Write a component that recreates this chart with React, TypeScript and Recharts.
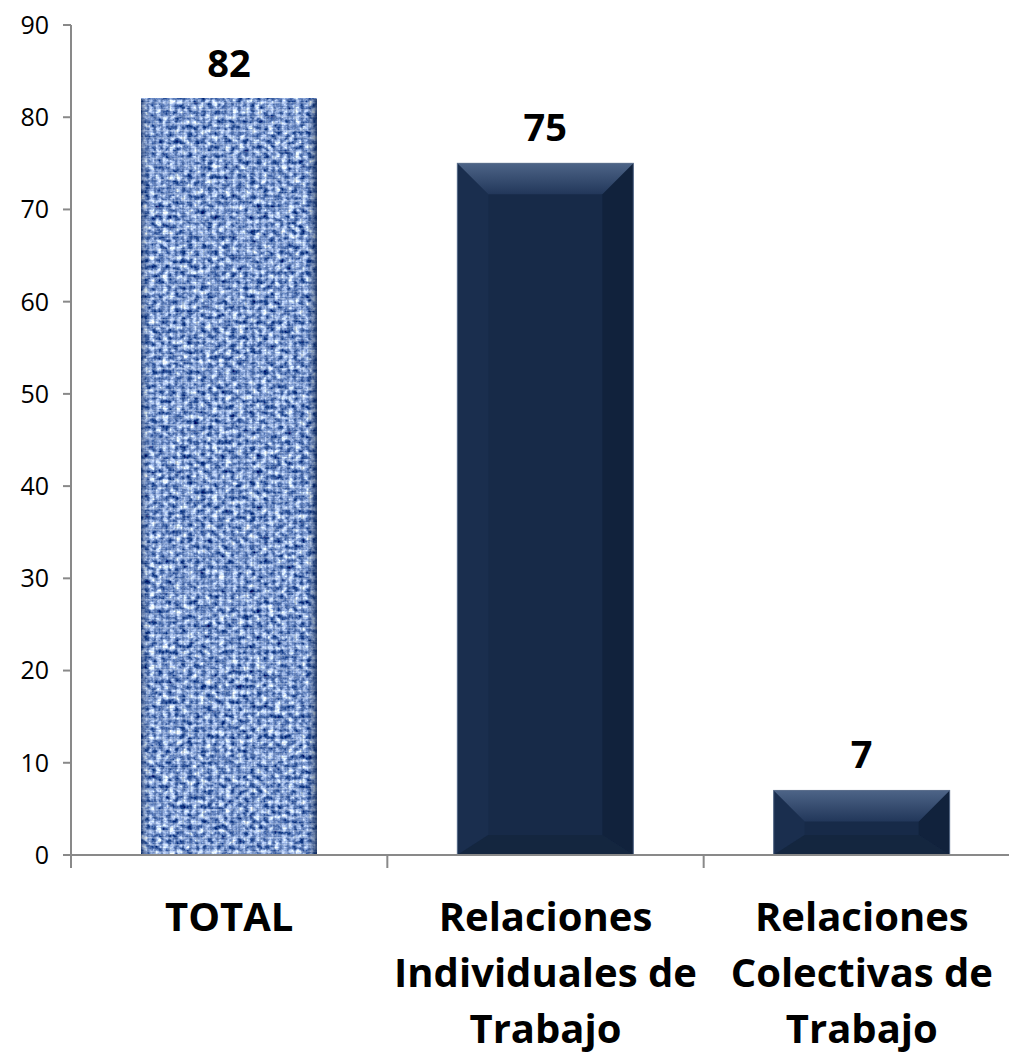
import { Bar, BarChart, LabelList, XAxis, YAxis } from 'recharts';

const categories = ['TOTAL', 'Relaciones Individuales de Trabajo', 'Relaciones Colectivas de Trabajo'];
const values = [82, 75, 7];
const categoryLines = [
  ['TOTAL'],
  ['Relaciones', 'Individuales de', 'Trabajo'],
  ['Relaciones', 'Colectivas de', 'Trabajo'],
];
const yTicks = [0, 10, 20, 30, 40, 50, 60, 70, 80, 90];

const data = categories.map((name, i) => ({ name, value: values[i], lines: categoryLines[i] }));

const AXIS_GRAY = '#898989';
const FONT = '"Open Sans", "DejaVu Sans", sans-serif';

function CategoryTick(props: any) {
  const { x, y, payload, index, visibleTicksCount } = props;
  const half = payload?.offset ?? 0;
  const lines: string[] = categoryLines[index] ?? [String(payload.value)];
  const isLast = index === visibleTicksCount - 1;
  return (
    <g>
      <line x1={x - half} x2={x - half} y1={y} y2={y + 13} stroke={AXIS_GRAY} strokeWidth={2} />
      {isLast && <line x1={x + half} x2={x + half} y1={y} y2={y + 13} stroke={AXIS_GRAY} strokeWidth={2} />}
      <text x={x} y={y} textAnchor="middle" fontFamily={FONT} fontWeight={700} fontSize={40} fill="#000">
        {lines.map((ln, i) => (
          <tspan key={i} x={x} y={y + 76 + i * 56}>
            {ln}
          </tspan>
        ))}
      </text>
    </g>
  );
}

function TexturedBar({ x, y, width, height }: any) {
  return (
    <g>
      <defs>
        <filter id="burlap" x="0" y="0" width="100%" height="100%" colorInterpolationFilters="sRGB">
          <feTurbulence type="fractalNoise" baseFrequency="0.16 0.2" numOctaves={3} seed={7} result="noise" />
          <feColorMatrix
            in="noise"
            type="matrix"
            values="1.8 0 0 0 -0.42  1.6 0 0 0 -0.2  1.2 0 0 0 0.22  0 0 0 0 1"
          />
        </filter>
        <pattern id="weave" width="7" height="7" patternUnits="userSpaceOnUse">
          <rect x="0" y="0" width="2" height="7" fill="#1f3d75" opacity="0.3" />
          <rect x="3" y="0" width="2" height="7" fill="#e2ecfc" opacity="0.2" />
          <rect x="0" y="4" width="7" height="1.5" fill="#e8f0fd" opacity="0.3" />
          <rect x="0" y="1" width="7" height="1" fill="#1f3d75" opacity="0.15" />
        </pattern>
        <linearGradient id="texEdge" x1="0" x2="1" y1="0" y2="0">
          <stop offset="0" stopColor="#10254d" stopOpacity="0.5" />
          <stop offset="0.04" stopColor="#10254d" stopOpacity="0" />
          <stop offset="0.95" stopColor="#10254d" stopOpacity="0" />
          <stop offset="1" stopColor="#10254d" stopOpacity="0.7" />
        </linearGradient>
      </defs>
      <rect x={x} y={y} width={width} height={height} fill="#7a98cf" filter="url(#burlap)" />
      <rect x={x} y={y} width={width} height={height} fill="url(#weave)" />
      <rect x={x} y={y} width={width} height={height} fill="url(#texEdge)" />
    </g>
  );
}

function BevelBar({ x, y, width, height, index }: any) {
  const w = width;
  const h = height;
  const b = Math.min(31, w / 2, h * 0.48);
  const bb = Math.min(20, Math.max(0, h - b - 4));
  const id = `bevelTop${index}`;
  return (
    <g>
      <defs>
        <linearGradient id={id} x1="0" x2="0" y1="0" y2="1">
          <stop offset="0" stopColor="#4d6487" />
          <stop offset="1" stopColor="#22375a" />
        </linearGradient>
      </defs>
      <rect x={x} y={y} width={w} height={h} fill="#172a48" />
      <polygon
        points={`${x},${y} ${x + b},${y + b} ${x + b},${y + h - bb} ${x},${y + h}`}
        fill="#1a2e4e"
      />
      <polygon
        points={`${x + w},${y} ${x + w},${y + h} ${x + w - b},${y + h - bb} ${x + w - b},${y + b}`}
        fill="#11223c"
      />
      <polygon
        points={`${x},${y + h} ${x + b},${y + h - bb} ${x + w - b},${y + h - bb} ${x + w},${y + h}`}
        fill="#14263f"
      />
      <polygon
        points={`${x},${y} ${x + w},${y} ${x + w - b},${y + b} ${x + b},${y + b}`}
        fill={`url(#${id})`}
      />
      <rect x={x} y={y} width={w} height={h} fill="none" stroke="#5b6f8c" strokeWidth={1} />
    </g>
  );
}

function BarShape(props: any) {
  if (props.index === 0) return <TexturedBar {...props} />;
  return <BevelBar {...props} />;
}

export default function App() {
  return (
    <div
      style={{
        position: 'absolute',
        left: 0,
        top: 0,
        width: 1009,
        height: 1055,
        overflow: 'hidden',
        background: '#fff',
      }}
    >
      <BarChart width={1030} height={1055} data={data} margin={{ top: 25, right: 10, left: 0, bottom: 0 }}>
        <YAxis
          width={71}
          domain={[0, 90]}
          ticks={yTicks}
          interval={0}
          tickSize={8}
          tickMargin={14}
          axisLine={{ stroke: AXIS_GRAY, strokeWidth: 2 }}
          tickLine={{ stroke: AXIS_GRAY, strokeWidth: 2 }}
          tick={{ fill: '#000', fontSize: 25, fontFamily: FONT }}
        />
        <XAxis
          dataKey="name"
          height={200}
          interval={0}
          tickSize={0}
          tickMargin={0}
          tickLine={false}
          axisLine={{ stroke: AXIS_GRAY, strokeWidth: 2 }}
          tick={<CategoryTick />}
        />
        <Bar dataKey="value" barSize={176} isAnimationActive={false} shape={<BarShape />}>
          <LabelList
            dataKey="value"
            position="top"
            offset={22}
            style={{ fontSize: 38, fontWeight: 700, fontFamily: FONT, fill: '#000' }}
          />
        </Bar>
      </BarChart>
    </div>
  );
}
